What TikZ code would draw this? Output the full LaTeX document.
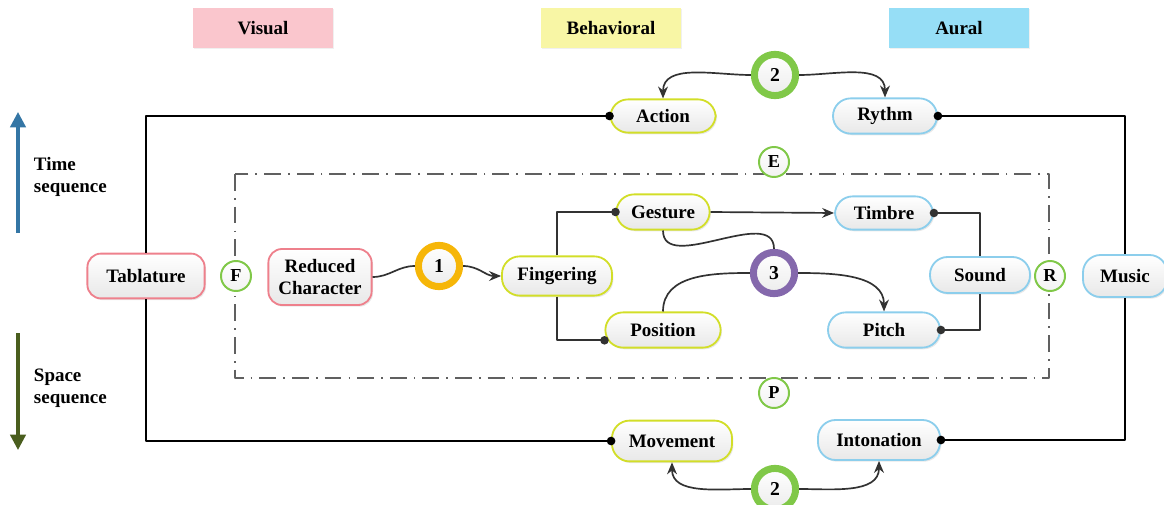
\documentclass[tikz,border=0pt]{standalone}
\usepackage{fontspec}
\setmainfont{Liberation Serif}
\usetikzlibrary{arrows.meta,shadows}
\definecolor{visLine}{RGB}{238,128,140}
\definecolor{visFill}{RGB}{250,198,205}
\definecolor{behLine}{RGB}{210,222,40}
\definecolor{behFill}{RGB}{248,246,165}
\definecolor{aurLine}{RGB}{140,206,236}
\definecolor{aurFill}{RGB}{150,222,246}
\definecolor{ringGreen}{RGB}{128,200,72}
\definecolor{ringOrange}{RGB}{246,182,8}
\definecolor{ringPurple}{RGB}{132,104,172}
\definecolor{linkGray}{RGB}{50,50,50}
\definecolor{timeBlue}{RGB}{52,118,165}
\definecolor{spaceGreen}{RGB}{74,94,30}

\tikzset{
  box/.style={draw, line width=1.3pt, top color=white, bottom color=gray!18,
    font=\fontsize{13.5}{15}\selectfont\bfseries, inner sep=1pt, align=center,
    drop shadow={opacity=0.18, shadow xshift=1pt, shadow yshift=-1.2pt}},
  visbox/.style={box, draw=visLine, rounded corners=0.34cm},
  behbox/.style={box, draw=behLine, rounded corners=0.44cm},
  aurbox/.style={box, draw=aurLine, rounded corners=0.44cm},
  header/.style={minimum width=3.5cm, minimum height=1cm,
    font=\fontsize{13.5}{15}\selectfont\bfseries,
    drop shadow={opacity=0.12, shadow xshift=1pt, shadow yshift=-1pt}},
  ring/.style={circle, draw, line width=5pt, minimum size=1.03cm, inner sep=0pt,
    top color=white, bottom color=gray!15, font=\fontsize{14}{15}\selectfont\bfseries},
  tag/.style={circle, draw=ringGreen, line width=1.4pt, minimum size=0.75cm, inner sep=0pt,
    top color=white, bottom color=gray!10, font=\fontsize{13}{14}\selectfont\bfseries},
  link/.style={draw=linkGray, line width=1.2pt},
  flow/.style={link, -{Stealth[length=8.5pt,width=7pt]}},
  frameline/.style={draw=black, line width=2.1pt},
  dotstart/.style={{Circle[length=6pt]}-, shorten <=-3pt},
  dotend/.style={-{Circle[length=6pt]}, shorten >=-3pt},
  sidetext/.style={anchor=west, align=left, font=\fontsize{13.5}{16}\selectfont\bfseries},
}

\begin{document}
\begin{tikzpicture}[x=0.025cm, y=-0.025cm, line join=round]
\useasboundingbox (0,0) rectangle (1164,505);

% column headers
\node[header, fill=visFill] (hdVisual) at (263,28) {Visual};
\node[header, fill=behFill] (hdBehav) at (611,28) {Behavioral};
\node[header, fill=aurFill] (hdAural) at (959,28) {Aural};

% time / space arrows
\coordinate (timeBot) at (18,233);
\coordinate (timeTop) at (18,112);
\coordinate (spaceTop) at (18,333);
\coordinate (spaceBot) at (18,450);
\draw[timeBlue, line width=2.3pt, -{Triangle[length=11pt,width=11pt]}] (timeBot) -- (timeTop);
\draw[spaceGreen, line width=2.3pt, -{Triangle[length=11pt,width=11pt]}] (spaceTop) -- (spaceBot);
\node[sidetext] (timeTxt) at (29,177) {Time\\sequence};
\node[sidetext] (spaceTxt) at (29,388) {Space\\sequence};

% dash-dotted inner frame
\draw[gray!75!black, line width=1.5pt, dash pattern=on 12pt off 5pt on 1.2pt off 5pt]
  (235,174) rectangle (1049,378);

% visual
\node[visbox, minimum width=2.93cm, minimum height=1.12cm] (tab) at (146,276) {Tablature};
\node[visbox, minimum width=2.58cm, minimum height=1.4cm] (redchar) at (320,277) {Reduced\\Character};

% behavioral
\node[behbox, minimum width=2.63cm, minimum height=0.83cm] (action) at (663,116) {Action};
\node[behbox, minimum width=2.75cm, minimum height=0.98cm] (finger) at (557,276) {Fingering};
\node[behbox, minimum width=2.33cm, minimum height=0.88cm] (gesture) at (663,212) {Gesture};
\node[behbox, minimum width=2.88cm, minimum height=0.88cm] (position) at (663,330) {Position};
\node[behbox, minimum width=3.0cm, minimum height=1.02cm] (movement) at (672,441) {Movement};

% aural
\node[aurbox, minimum width=2.6cm, minimum height=0.88cm] (rythm) at (885,116) {Rythm};
\node[aurbox, minimum width=2.45cm, minimum height=0.83cm] (timbre) at (884,213) {Timbre};
\node[aurbox, minimum width=2.8cm, minimum height=0.88cm] (pitch) at (884,330) {Pitch};
\node[aurbox, minimum width=2.5cm, minimum height=0.9cm] (sound) at (980,275) {Sound};
\node[aurbox, minimum width=3.05cm, minimum height=1.0cm] (intonation) at (879,440) {Intonation};
\node[aurbox, minimum width=2.1cm, minimum height=1.05cm] (music) at (1125,276) {Music};

% numbered rings
\node[ring, draw=ringOrange] (one) at (439,266) {1};
\node[ring, draw=ringGreen] (twoUp) at (775,75) {2};
\node[ring, draw=ringPurple] (three) at (774,273) {3};
\node[ring, draw=ringGreen] (twoDown) at (775,489) {2};

% letter tags
\node[tag] (tagE) at (774,162) {E};
\node[tag] (tagF) at (236,276) {F};
\node[tag] (tagP) at (774,393) {P};
\node[tag] (tagR) at (1050,276) {R};

% outer frame
\draw[frameline, dotstart] (action.west) -| (tab.north);
\draw[frameline, dotend] (tab.south) |- (movement.west);
\draw[frameline, dotstart] (rythm.east) -| (music.north);
\draw[frameline, dotend] (music.south) |- (intonation.east);

% inner links
\draw[link] (redchar.east) to[out=0, in=180] (one.west);
\draw[flow] (one.east) to[out=0, in=180] (finger.west);
\draw[link, dotend] (finger.north) |- (gesture.west);
\draw[link, dotend] (finger.south) |- (position.190);
\draw[flow] (gesture.east) -- (timbre.west);
\draw[link] (gesture.south) to[out=-90, in=90] (three.north);
\draw[link] (position.north) to[out=90, in=180] (three.west);
\draw[flow] (three.east) to[out=0, in=90] (pitch.north);
\draw[link, dotstart] (timbre.east) -| (sound.north);
\draw[link, dotend] (sound.south) |- (pitch.east);

% ring 2 links
\draw[flow] (twoUp.west) to[out=180, in=90] (action.north);
\draw[flow] (twoUp.east) to[out=0, in=90] (rythm.north);
\draw[flow] (twoDown.west) to[out=180, in=-90] (movement.south);
\draw[flow] (twoDown.east) to[out=0, in=-90] (intonation.south);
\end{tikzpicture}
\end{document}
